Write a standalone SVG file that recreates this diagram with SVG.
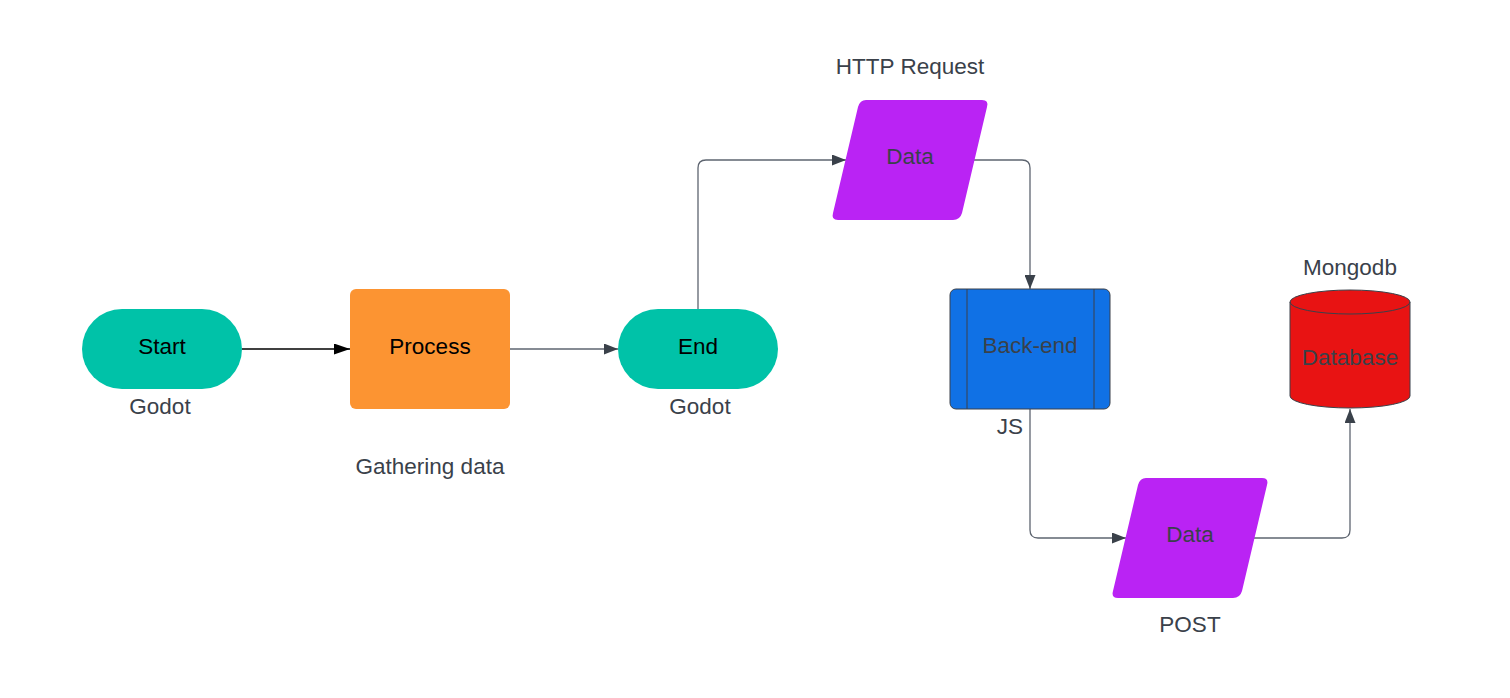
<svg xmlns="http://www.w3.org/2000/svg" width="1510" height="698" viewBox="0 0 1510 698">
<defs>
<style>
text{font-family:"Liberation Sans",Arial,sans-serif;font-size:22.5px;text-anchor:middle;dominant-baseline:central}
.lbl{fill:#3a414a}
.dark{fill:#000}
.conn{fill:none;stroke:#5e6570;stroke-width:1.3}
</style>
<marker id="ah" viewBox="0 0 14 11" refX="14" refY="5.5" markerWidth="14" markerHeight="11" markerUnits="userSpaceOnUse" orient="auto">
<path d="M0,0 L14,5.5 L0,11 Z" fill="#3a414a"/>
</marker>
<marker id="ahb" viewBox="0 0 16 11" refX="16" refY="5.5" markerWidth="16" markerHeight="11" markerUnits="userSpaceOnUse" orient="auto">
<path d="M0,0 L16,5.5 L0,11 Z" fill="#000"/>
</marker>
</defs>
<rect width="1510" height="698" fill="#fff"/>
<g id="connectors">
<path d="M242,349 L350,349" fill="none" stroke="#000" stroke-width="1.3" marker-end="url(#ahb)"/>
<path class="conn" d="M510,349 L618,349" marker-end="url(#ah)"/>
<path class="conn" d="M698,309 L698,168 Q698,160 706,160 L846,160" marker-end="url(#ah)"/>
<path class="conn" d="M974,160 L1022,160 Q1030,160 1030,168 L1030,289" marker-end="url(#ah)"/>
<path class="conn" d="M1030,409 L1030,530 Q1030,538 1038,538 L1126,538" marker-end="url(#ah)"/>
<path class="conn" d="M1254,538 L1342,538 Q1350,538 1350,530 L1350,409" marker-end="url(#ah)"/>
</g>
<g id="start">
<rect x="82" y="309" width="160" height="80" rx="40" fill="#00c2a8"/>
<text x="162" y="346" class="dark">Start</text>
<text x="160" y="406" class="lbl">Godot</text>
</g>
<g id="process">
<rect x="350" y="289" width="160" height="120" rx="6" fill="#fc9432"/>
<text x="430" y="346" class="dark">Process</text>
<text x="430" y="466" class="lbl">Gathering data</text>
</g>
<g id="end">
<rect x="618" y="309" width="160" height="80" rx="40" fill="#00c2a8"/>
<text x="698" y="346" class="dark">End</text>
<text x="700" y="406" class="lbl">Godot</text>
</g>
<g id="data1">
<path d="M866,100 L982,100 Q989,100 987,107 L962,213 Q960,220 953,220 L838,220 Q831,220 833,213 L858,107 Q860,100 866,100 Z" fill="#ba23f4"/>
<text x="910" y="156" class="lbl">Data</text>
<text x="910" y="66" class="lbl">HTTP Request</text>
</g>
<g id="backend">
<rect x="950" y="289" width="160" height="120" rx="6" fill="#1071e5" stroke="#3a414a" stroke-width="1"/>
<line x1="967" y1="289" x2="967" y2="409" stroke="#3a414a" stroke-width="1"/>
<line x1="1094" y1="289" x2="1094" y2="409" stroke="#3a414a" stroke-width="1"/>
<text x="1030" y="345" class="lbl">Back-end</text>
<text x="1010" y="426" class="lbl">JS</text>
</g>
<g id="database">
<path d="M1290,302 L1290,396 A60,12 0 0 0 1410,396 L1410,302 A60,12 0 0 0 1290,302 Z" fill="#e81313" stroke="#3a414a" stroke-width="1"/>
<path d="M1290,302 A60,12 0 0 0 1410,302" fill="none" stroke="#3a414a" stroke-width="1"/>
<text x="1350" y="357" class="lbl">Database</text>
<text x="1350" y="267" class="lbl">Mongodb</text>
</g>
<g id="data2">
<path d="M1146,478 L1262,478 Q1269,478 1267,485 L1242,591 Q1240,598 1233,598 L1118,598 Q1111,598 1113,591 L1138,485 Q1140,478 1146,478 Z" fill="#ba23f4"/>
<text x="1190" y="534" class="lbl">Data</text>
<text x="1190" y="624" class="lbl">POST</text>
</g>
</svg>
